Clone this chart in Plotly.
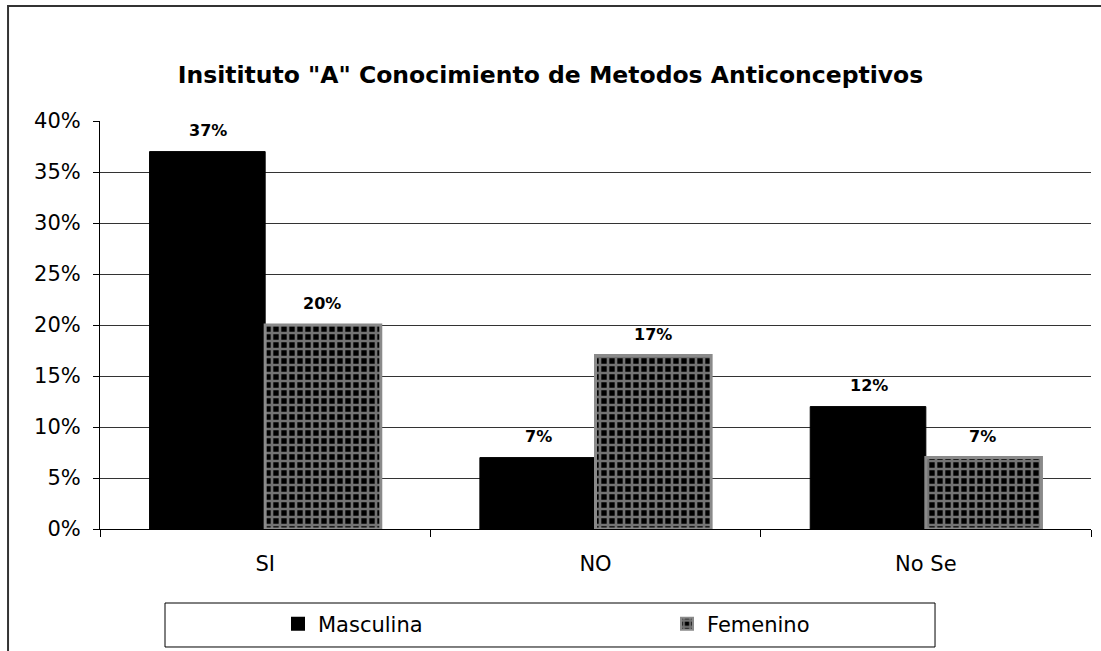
import plotly.graph_objects as go

categories = ["SI", "NO", "No Se"]
masculina = [0.37, 0.07, 0.12]
femenino = [0.20, 0.17, 0.07]
series_names = ["Masculina", "Femenino"]
title_text = 'Insitituto "A" Conocimiento de Metodos Anticonceptivos'

FONT = "DejaVu Sans, Arial, sans-serif"

fig = go.Figure()
fig.add_trace(go.Bar(
    x=categories, y=masculina, name=series_names[0], legend="legend",
    marker=dict(color="black", line=dict(color="black", width=1)),
))
fig.add_trace(go.Bar(
    x=categories, y=femenino, name=series_names[1], legend="legend2",
    marker=dict(
        color="black",
        line=dict(color="#8a8a8a", width=3),
        pattern=dict(shape="+", fgcolor="#e6e6e6", bgcolor="black", size=8, solidity=0.55),
    ),
))

annotations = []
for vals, shift in ((masculina, -57), (femenino, 57)):
    for c, v in zip(categories, vals):
        annotations.append(dict(
            x=c, y=v, xref="x", yref="y", text=f"{round(v*100)}%",
            showarrow=False, yanchor="bottom", xshift=shift, yshift=10,
            font=dict(family=FONT, size=16, color="black", weight="bold"),
        ))

leg_common = dict(orientation="h", xanchor="left", y=-0.233, yanchor="middle",
                  font=dict(family=FONT, size=21, color="black"),
                  bgcolor="rgba(0,0,0,0)", borderwidth=0, itemsizing="constant")

fig.update_layout(
    width=1101, height=651,
    margin=dict(l=100, r=10, t=121, b=122, autoexpand=False),
    paper_bgcolor="white", plot_bgcolor="white",
    barmode="group", bargap=0.3, bargroupgap=0,
    title=dict(text=title_text, x=0.5, xanchor="center", y=1 - 75/651, yanchor="middle",
               font=dict(family=FONT, size=23.5, color="black", weight="bold")),
    font=dict(family=FONT, size=21, color="black"),
    showlegend=True,
    legend=dict(x=(278 - 100) / 991, **leg_common),
    legend2=dict(x=(667 - 100) / 991, **leg_common),
    annotations=annotations,
    shapes=[
        dict(type="rect", xref="paper", yref="paper", x0=-0.0928, x1=1.05, y0=-0.4, y1=1.2819,
             line=dict(color="#333333", width=2), fillcolor="rgba(0,0,0,0)", layer="below"),
        dict(type="rect", xref="paper", yref="paper", x0=0.0656, x1=0.8426, y0=-0.2892, y1=-0.1814,
             line=dict(color="black", width=1), fillcolor="rgba(0,0,0,0)"),
    ],
)
fig.update_yaxes(range=[0, 0.40], dtick=0.05, tickformat=".0%", showgrid=True,
                 gridcolor="#333333", gridwidth=1, showline=True, linecolor="black", linewidth=1,
                 ticks="outside", ticklen=6, tickcolor="black", zeroline=False,
                 ticklabelstandoff=8, automargin=False,
                 tickfont=dict(family=FONT, size=21, color="black"))
fig.update_xaxes(showline=True, linecolor="black", linewidth=1, ticks="outside",
                 tickson="boundaries", ticklen=7, tickcolor="black", showgrid=False,
                 ticklabelstandoff=16, automargin=False,
                 tickfont=dict(family=FONT, size=21, color="black"))

fig.write_html("out.html", config={"displayModeBar": False},
               post_script="document.body.style.margin='0';")
